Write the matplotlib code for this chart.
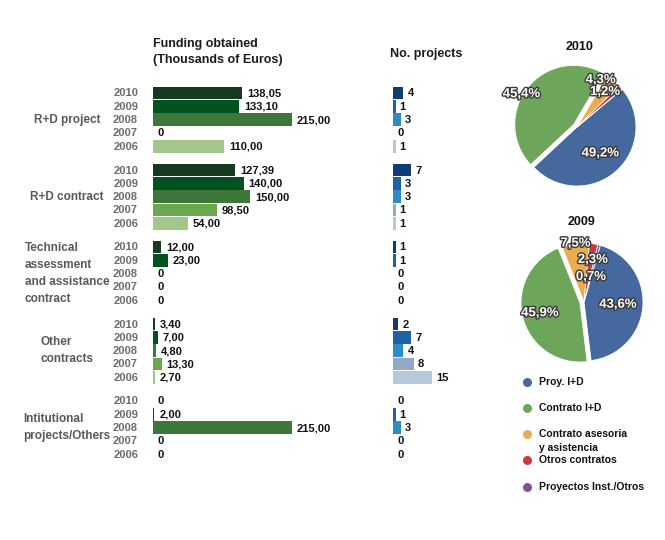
import matplotlib.pyplot as plt
import matplotlib.patheffects as pe
import numpy as np

plt.rcParams['font.family'] = ['Liberation Sans Narrow', 'Liberation Sans', 'DejaVu Sans']
plt.rcParams['font.weight'] = 'bold'

# Datos
years = ['2010', '2009', '2008', '2007', '2006']
categories = ['R+D project', 'R+D contract',
              'Technical\nassessment\nand assistance\ncontract',
              'Other\ncontracts', 'Intitutional\nprojects/Others']

funding_rd_project = [138.05, 133.10, 215.00, 0, 110.00]
funding_rd_contract = [127.39, 140.00, 150.00, 98.50, 54.00]
funding_technical = [12.00, 23.00, 0, 0, 0]
funding_other = [3.40, 7.00, 4.80, 13.30, 2.70]
funding_institutional = [0, 2.00, 215.00, 0, 0]

projects_rd_project = [4, 1, 3, 0, 1]
projects_rd_contract = [7, 3, 3, 1, 1]
projects_technical = [1, 1, 0, 0, 0]
projects_other = [2, 7, 4, 8, 15]
projects_institutional = [0, 1, 3, 0, 0]

pie_years = ['2010', '2009']
pie_labels = ['Proy. I+D', 'Contrato I+D', 'Contrato asesoria\ny asistencia',
              'Otros contratos', 'Proyectos Inst./Otros']

funding = [funding_rd_project, funding_rd_contract, funding_technical,
           funding_other, funding_institutional]
projects = [projects_rd_project, projects_rd_contract, projects_technical,
            projects_other, projects_institutional]

# Couleurs
green_years = ['#163a1f', '#00521e', '#3e773a', '#6aa84f', '#a3c68a']
blue_years = ['#0d3c78', '#1f62aa', '#2d8cc0', '#93a7c6', '#b7c8dc']
pie_colors = ['#45699e', '#6da65a', '#e8ad4e', '#cc3b3b', '#80509a']
year_color = '#6d6b6b'
cat_color = '#58595b'

W, H = 665, 540


def rect(left, top, width, height):
    return [left / W, 1 - (top + height) / H, width / W, height / H]


fig = plt.figure(figsize=(W / 100, H / 100), dpi=100)

# positions des lignes (pixels depuis le haut de la zone)
zone_top, zone_h = 80, 390
row_step, group_step, first_row = 13.3, 77, 13
bar_h = 12.8


def row_y(g, r):
    return first_row + g * group_step + r * row_step


def fmt_euros(v):
    return '0' if v == 0 else f'{v:.2f}'.replace('.', ',')


# Financement
px_unit = 139 / 215
ax_f = fig.add_axes(rect(153, zone_top, 230, zone_h))
ax_f.set_xlim(0, 230 / px_unit)
ax_f.set_ylim(zone_h, 0)
for g, vals in enumerate(funding):
    for r, v in enumerate(vals):
        y = row_y(g, r)
        ax_f.barh(y, v, height=bar_h, color=green_years[r], linewidth=0)
        ax_f.text(v + 5 / px_unit, y + 0.5, fmt_euros(v), va='center', ha='left',
                  fontsize=8, color='#111111')
ax_f.axis('off')

# Nombre de projets
px_proj = 39 / 15
ax_p = fig.add_axes(rect(393, zone_top, 60, zone_h))
ax_p.set_xlim(0, 60 / px_proj)
ax_p.set_ylim(zone_h, 0)
for g, vals in enumerate(projects):
    for r, v in enumerate(vals):
        y = row_y(g, r)
        ax_p.barh(y, v, height=bar_h, color=blue_years[r], linewidth=0)
        ax_p.text(v + 4 / px_proj, y + 0.5, str(v), va='center', ha='left',
                  fontsize=8, color='#111111')
ax_p.axis('off')

# Camemberts
pie_centers = [(577, 127), (584, 302)]
pie_radius = 59
pie_starts = [40, 74]
pie_dists = [[0.6, 1.09, 0.89, 0.76, 0.0], [0.58, 0.77, 1.0, 0.73, 0.44]]
pie_shift = [[0, 8, 11, 9, 0], [0, 0, 0, -2.5, -1]]
for i, yr in enumerate(pie_years):
    vals = [f[i] for f in funding]
    total = sum(vals)
    cx, cy = pie_centers[i]
    half = pie_radius * 1.3
    ax = fig.add_axes(rect(cx - half, cy - half, 2 * half, 2 * half))
    explode = [0, 0.07, 0, 0, 0]
    wedges, _ = ax.pie(vals, colors=pie_colors, startangle=pie_starts[i],
                       counterclock=False, explode=explode,
                       wedgeprops=dict(edgecolor='white', linewidth=0.6))
    for k, w in enumerate(wedges):
        if vals[k] == 0:
            continue
        mid = np.deg2rad((w.theta1 + w.theta2) / 2 + pie_shift[i][k])
        d = pie_dists[i][k]
        pct = f'{100 * vals[k] / total:.1f}%'.replace('.', ',')
        ax.text(d * np.cos(mid), d * np.sin(mid), pct, ha='center', va='center',
                fontsize=9.5, color='white',
                path_effects=[pe.withStroke(linewidth=2, foreground='#3a3a3a')])
    ax.set_xlim(-1.3, 1.3)
    ax.set_ylim(-1.3, 1.3)
    ax.set_aspect('equal')
    ax.axis('off')

# Textes
ov = fig.add_axes([0, 0, 1, 1])
ov.set_xlim(0, W)
ov.set_ylim(H, 0)
ov.axis('off')
ov.patch.set_visible(False)

ov.text(153, 38, 'Funding obtained\n(Thousands of Euros)', ha='left', va='top',
        fontsize=9, color='#1a1a1a', linespacing=1.5)
ov.text(390, 54, 'No. projects', ha='left', va='center', fontsize=9, color='#1a1a1a')

for g, cat in enumerate(categories):
    ov.text(67, zone_top + row_y(g, 2), cat, ha='center', va='center',
            multialignment='left', fontsize=8.5, color=cat_color, linespacing=1.55)
    for r, yr in enumerate(years):
        ov.text(138, zone_top + row_y(g, r) + 0.5, yr, ha='right', va='center',
                fontsize=8, color=year_color)

title_pos = [(580, 47), (582, 222)]
for i, yr in enumerate(pie_years):
    ov.text(title_pos[i][0], title_pos[i][1], yr, ha='center', va='center',
            fontsize=9, color='#111111')

legend_y = [382, 408, 434, 460, 487]
for k, lab in enumerate(pie_labels):
    ov.plot(527, legend_y[k], 'o', color=pie_colors[k], markersize=6.5,
            markeredgewidth=0)
    ov.text(539, legend_y[k] - 5, lab, ha='left', va='top', fontsize=7.5,
            color='#111111', linespacing=1.45)

plt.savefig('out.png', dpi=100, facecolor='white')
plt.close()
